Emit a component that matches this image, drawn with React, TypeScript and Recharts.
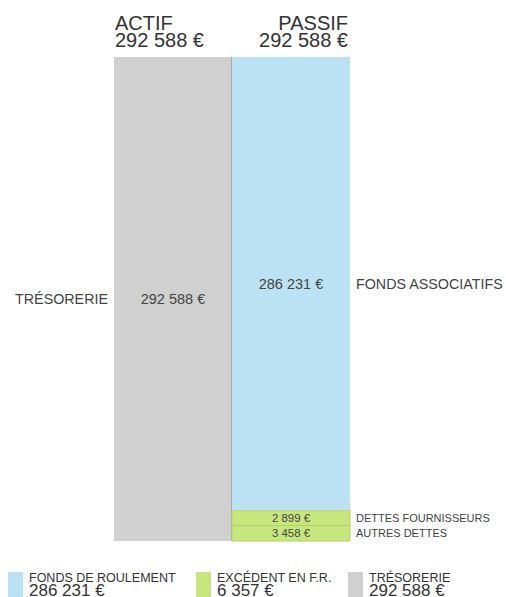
import React from 'react';
import { BarChart, Bar, XAxis, YAxis, LabelList } from 'recharts';

// columns and their totals
const categories = ['ACTIF', 'PASSIF'];
const columnTotals = [292588, 292588];

// stacked segments, bottom to top
const tresorerie = [292588, 0];
const autresDettes = [0, 3458];
const dettesFournisseurs = [0, 2899];
const fondsAssociatifs = [0, 286231];

// legend
const legendLabels = ['FONDS DE ROULEMENT', 'EXCÉDENT EN F.R.', 'TRÉSORERIE'];
const legendValues = [286231, 6357, 292588];

const BLUE = '#bae2f2';
const GREEN = '#c7e67d';
const GREY = '#d0d0d0';
const TEXT = '#444';
const legendColors = [BLUE, GREEN, GREY];
const legendX = [8, 196, 348];

const W = 506;
const H = 597;
const PLOT_LEFT = 114;
const PLOT_RIGHT = 350;
const PLOT_TOP = 57;
const PLOT_BOTTOM = 541;
const HEADER_H = 40;
const BAND = (PLOT_RIGHT - PLOT_LEFT) / categories.length;
const FONT = '"Liberation Sans", Arial, sans-serif';

const fmt = (n: number) => String(n).replace(/\B(?=(\d{3})+(?!\d))/g, ' ') + ' €';

// tiny segments get a minimum share of the column so they stay readable
const MIN_SHARE = 0.032;
function displayValues(values: number[], total: number) {
  const min = total * MIN_SHARE;
  const smallCount = values.filter((v) => v > 0 && v < min).length;
  const bigSum = values.filter((v) => v >= min).reduce((a, b) => a + b, 0);
  const rest = total - smallCount * min;
  return values.map((v) => (v <= 0 ? 0 : v < min ? min : (v * rest) / bigSum));
}

const rows = categories.map((name, i) => {
  const d = displayValues(
    [tresorerie[i], autresDettes[i], dettesFournisseurs[i], fondsAssociatifs[i]],
    columnTotals[i]
  );
  return {
    name,
    tres: tresorerie[i], tresD: d[0],
    ad: autresDettes[i], adD: d[1],
    df: dettesFournisseurs[i], dfD: d[2],
    fa: fondsAssociatifs[i], faD: d[3],
  };
});

const valueLabel = (fontSize: number) => (p: any) => {
  if (!p.value) return null;
  return (
    <text x={p.x + p.width / 2} y={p.y + p.height / 2} dy="0.35em" textAnchor="middle"
      fontSize={fontSize} fill={TEXT} fontFamily={FONT}>
      {fmt(p.value)}
    </text>
  );
};

const sideLabel = (text: string, side: 'left' | 'right', fontSize: number) => (p: any) => {
  if (!p.value) return null;
  const left = side === 'left';
  return (
    <text x={left ? p.x - 6 : p.x + p.width + 6} y={p.y + p.height / 2} dy="0.35em"
      textAnchor={left ? 'end' : 'start'} fontSize={fontSize} fill={TEXT} fontFamily={FONT}>
      {text}
    </text>
  );
};

function HeaderTick(props: any) {
  const { x, payload } = props;
  const i = categories.indexOf(payload.value);
  const left = i === 0;
  const tx = left ? x - BAND / 2 + 1 : x + BAND / 2 - 2;
  const anchor = left ? 'start' : 'end';
  return (
    <g fontFamily={FONT} fill="#333" fontSize={20}>
      <text x={tx} y={PLOT_TOP - 27} textAnchor={anchor}>{payload.value}</text>
      <text x={tx} y={PLOT_TOP - 10} textAnchor={anchor}>{fmt(columnTotals[i])}</text>
    </g>
  );
}

function GreyShape(p: any) {
  if (!p.height) return null;
  return (
    <g>
      <rect x={p.x} y={p.y} width={p.width} height={p.height} fill={GREY} />
      <line x1={p.x + p.width - 0.5} x2={p.x + p.width - 0.5} y1={p.y} y2={p.y + p.height} stroke="#aaa" />
    </g>
  );
}

function Legend() {
  return (
    <svg width={W} height={H} style={{ position: 'absolute', left: 0, top: 0, pointerEvents: 'none' }}>
      {legendLabels.map((label, i) => (
        <g key={label} fontFamily={FONT} fill="#333">
          <rect x={legendX[i]} y={572} width={15} height={25} fill={legendColors[i]} />
          <text x={legendX[i] + 21} y={582} fontSize={12.5}>{label}</text>
          <text x={legendX[i] + 21} y={596} fontSize={17}>{fmt(legendValues[i])}</text>
        </g>
      ))}
    </svg>
  );
}

export default function App() {
  return (
    <div style={{ position: 'absolute', left: 0, top: 0, width: W, height: H, background: '#fff' }}>
      <BarChart width={W} height={H} data={rows} barCategoryGap={0} barGap={0}
        margin={{ top: PLOT_TOP - HEADER_H, bottom: H - PLOT_BOTTOM, left: PLOT_LEFT, right: W - PLOT_RIGHT }}>
        <XAxis dataKey="name" orientation="top" height={HEADER_H} axisLine={false} tickLine={false}
          tick={<HeaderTick />} interval={0} />
        <YAxis hide domain={[0, Math.max(...columnTotals)]} />
        <Bar dataKey="tresD" stackId="a" fill={GREY} shape={<GreyShape />} isAnimationActive={false}>
          <LabelList dataKey="tres" content={valueLabel(14.5)} />
          <LabelList dataKey="tres" content={sideLabel('TRÉSORERIE', 'left', 14.3)} />
        </Bar>
        <Bar dataKey="adD" stackId="a" fill={GREEN} stroke="#b2d462" strokeWidth={1} isAnimationActive={false}>
          <LabelList dataKey="ad" content={valueLabel(11.4)} />
          <LabelList dataKey="ad" content={sideLabel('AUTRES DETTES', 'right', 11)} />
        </Bar>
        <Bar dataKey="dfD" stackId="a" fill={GREEN} stroke="#b2d462" strokeWidth={1} isAnimationActive={false}>
          <LabelList dataKey="df" content={valueLabel(11.4)} />
          <LabelList dataKey="df" content={sideLabel('DETTES FOURNISSEURS', 'right', 11)} />
        </Bar>
        <Bar dataKey="faD" stackId="a" fill={BLUE} isAnimationActive={false}>
          <LabelList dataKey="fa" content={valueLabel(14.5)} />
          <LabelList dataKey="fa" content={sideLabel('FONDS ASSOCIATIFS', 'right', 14.3)} />
        </Bar>
      </BarChart>
      <Legend />
    </div>
  );
}
